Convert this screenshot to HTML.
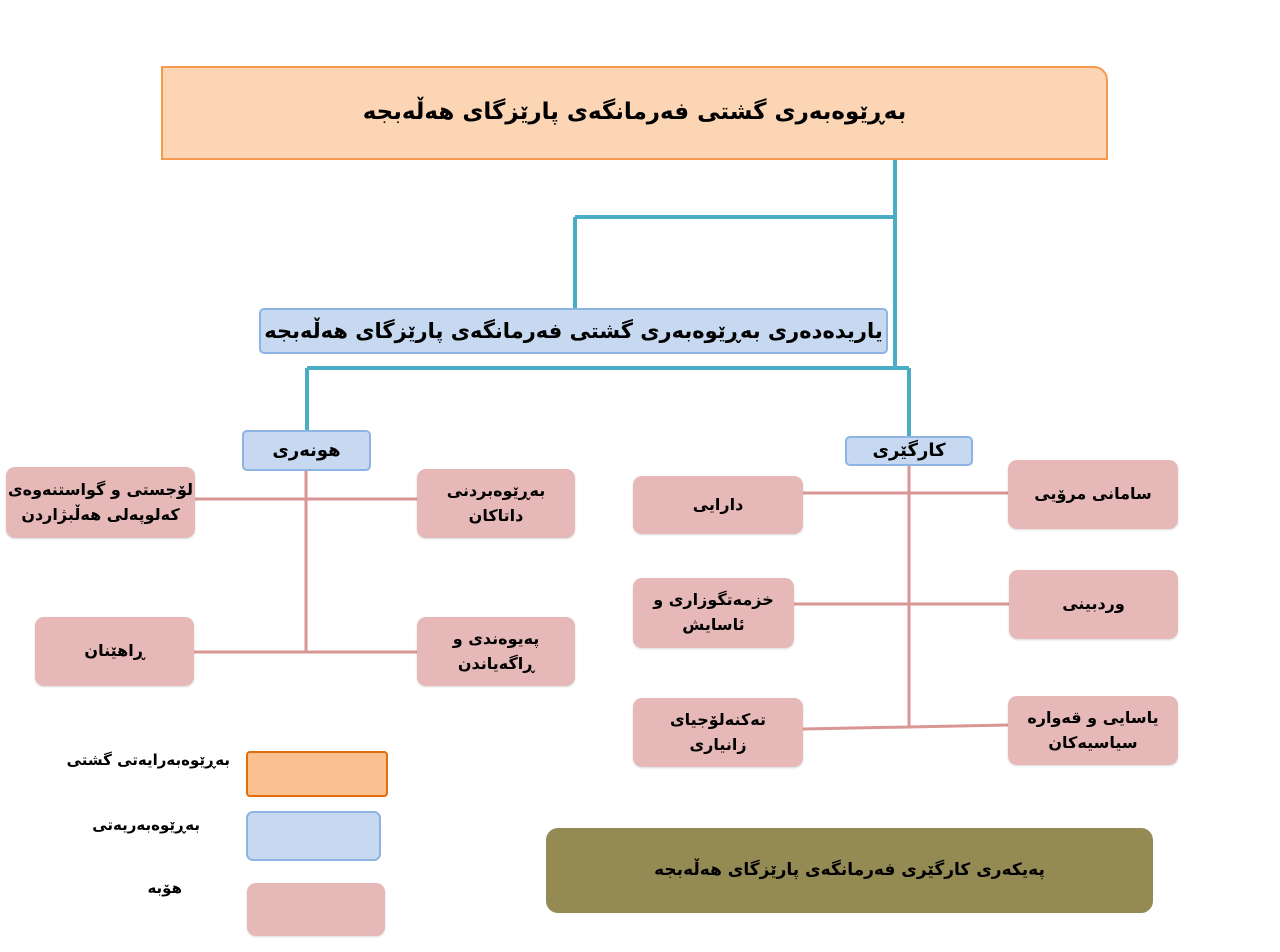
<!DOCTYPE html>
<html><head><meta charset="utf-8"><style>
body{margin:0;width:1280px;height:952px;background:#fff;position:relative;overflow:hidden;font-family:"DejaVu Sans","Liberation Sans",sans-serif;font-weight:bold;color:#000}
.b{position:absolute;box-sizing:border-box;display:flex;align-items:center;justify-content:center;text-align:center;direction:rtl;line-height:1.55}
.p{background:#e6b9b8;border-radius:9px;font-size:16px;box-shadow:0 1px 2px rgba(0,0,0,.15)}
.u{background:#c6d9f1;border:2.5px solid #8eb4e3;border-radius:5px}
.t{position:absolute;direction:rtl;font-size:15px;white-space:nowrap}
svg{position:absolute;left:0;top:0}
</style></head><body>
<svg width="1280" height="952">
<g stroke="#4bacc6" stroke-width="4" fill="none">
<path d="M895 160V368M575 217H895M575 217V308M307 368H909M307 368V430M909 368V437"/>
</g>
<g stroke="#d99694" stroke-width="3" fill="none">
<path d="M306 471V652M195 499H417M194 652H417M909 466V727M803 493H1008M794 604H1009M803 729L1008 725"/>
</g>
</svg>
<div class="b" style="left:161px;top:66px;width:947px;height:94px;background:#fcd5b5;border:2.5px solid #f39a4e;border-top-right-radius:14px;font-size:23px">بەڕێوەبەری گشتی فەرمانگەی پارێزگای هەڵەبجە</div>
<div class="b u" style="left:259px;top:308px;width:629px;height:46px;font-size:21px">یاریدەدەری بەڕێوەبەری گشتی فەرمانگەی پارێزگای هەڵەبجە</div>
<div class="b u" style="left:242px;top:430px;width:129px;height:41px;font-size:18px">هونەری</div>
<div class="b u" style="left:845px;top:436px;width:128px;height:30px;font-size:18px">کارگێری</div>
<div class="b p" style="left:6px;top:467px;width:189px;height:71px">لۆجستی و گواستنەوەی<br>کەلوپەلی هەڵبژاردن</div>
<div class="b p" style="left:417px;top:469px;width:158px;height:69px">بەڕێوەبردنی<br>داتاکان</div>
<div class="b p" style="left:35px;top:617px;width:159px;height:69px">ڕاهێنان</div>
<div class="b p" style="left:417px;top:617px;width:158px;height:69px">پەیوەندی و<br>ڕاگەیاندن</div>
<div class="b p" style="left:633px;top:476px;width:170px;height:58px">دارایی</div>
<div class="b p" style="left:1008px;top:460px;width:170px;height:69px">سامانی مرۆیی</div>
<div class="b p" style="left:633px;top:578px;width:161px;height:70px">خزمەتگوزاری و<br>ئاسایش</div>
<div class="b p" style="left:1009px;top:570px;width:169px;height:69px">وردبینی</div>
<div class="b p" style="left:633px;top:698px;width:170px;height:69px">تەکنەلۆجیای<br>زانیاری</div>
<div class="b p" style="left:1008px;top:696px;width:170px;height:69px">یاسایی و قەوارە<br>سیاسیەکان</div>
<div class="b" style="left:246px;top:751px;width:142px;height:46px;background:#fac090;border:2.5px solid #e46c0a;border-radius:4px"></div>
<div class="b u" style="left:246px;top:811px;width:135px;height:50px;border-radius:7px"></div>
<div class="b p" style="left:247px;top:883px;width:138px;height:53px"></div>
<div class="t" style="right:1050px;top:751px">بەڕێوەبەرایەتی گشتی</div>
<div class="t" style="right:1080px;top:816px">بەڕێوەبەریەتی</div>
<div class="t" style="right:1098px;top:879px">هۆبە</div>
<div class="b" style="left:546px;top:828px;width:607px;height:85px;background:#948a54;border-radius:12px;font-size:17px">پەیکەری کارگێری فەرمانگەی پارێزگای هەڵەبجە</div>
</body></html>
